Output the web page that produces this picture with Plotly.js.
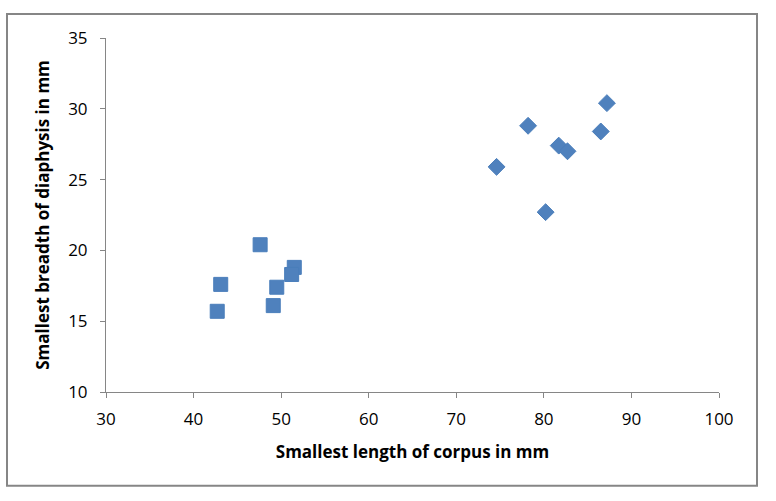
<!DOCTYPE html>
<html>
<head>
<meta charset="utf-8">
<script src="https://cdn.plot.ly/plotly-3.0.1.min.js"></script>
<style>html,body{margin:0;padding:0;background:#fff;}#chart{width:776px;height:501px;}</style>
</head>
<body>
<div id="chart"></div>
<script>
// Group 1 (squares)
const squareX = [47.6, 51.5, 51.2, 43.1, 49.5, 49.1, 42.7];
const squareY = [20.4, 18.8, 18.3, 17.6, 17.4, 16.1, 15.7];
// Group 2 (diamonds)
const diamondX = [87.2, 78.2, 86.5, 81.7, 82.7, 74.6, 80.2];
const diamondY = [30.4, 28.8, 28.4, 27.4, 27.0, 25.9, 22.7];

const xTitle = "Smallest length of corpus in mm";
const yTitle = "Smallest breadth of diaphysis in mm";

const FONT = "'Open Sans', 'Noto Sans', sans-serif";
const BLUE = "#4F81BD";
const EDGE = "#4A7EBB";

const traces = [
  {x: diamondX, y: diamondY, type: "scatter", mode: "markers",
   marker: {symbol: "diamond", size: 13, color: BLUE, line: {color: EDGE, width: 1}}},
  {x: squareX, y: squareY, type: "scatter", mode: "markers",
   marker: {symbol: "square", size: 14, color: BLUE, line: {color: EDGE, width: 1}}}
];

const axisCommon = {
  showgrid: false, zeroline: false, showline: true, linecolor: "#868686", linewidth: 1,
  ticks: "outside", ticklen: 5, tickcolor: "#868686", tickwidth: 1,
  tickfont: {family: FONT, size: 17, color: "#000"}
};

const layout = {
  width: 776, height: 501,
  margin: {l: 106, r: 57, t: 38, b: 109, autoexpand: false},
  paper_bgcolor: "#fff", plot_bgcolor: "#fff",
  showlegend: false,
  xaxis: Object.assign({}, axisCommon, {
    range: [30, 100], tickvals: [30,40,50,60,70,80,90,100], ticktext: ["30","40","50","60","70","80","90","100"],
    ticklabelstandoff: 7,
    title: {text: xTitle, font: {family: FONT, size: 17, color: "#000", weight: "bold"}, standoff: 16}
  }),
  yaxis: Object.assign({}, axisCommon, {
    range: [10, 35], tickvals: [10,15,20,25,30,35], ticktext: ["10","15","20","25","30","35"],
    ticklabelstandoff: 9,
    title: {text: yTitle, font: {family: FONT, size: 17, color: "#000", weight: "bold"}, standoff: 14}
  }),
  shapes: [{
    type: "rect", xref: "paper", yref: "paper",
    x0: (7 - 106) / 613, x1: (757 - 106) / 613,
    y0: (393 - 487) / 355, y1: (393 - 14) / 355,
    line: {color: "#868686", width: 2}, fillcolor: "rgba(0,0,0,0)", layer: "below"
  }]
};

Plotly.newPlot("chart", traces, layout, {displayModeBar: false, staticPlot: true});
</script>
</body>
</html>
